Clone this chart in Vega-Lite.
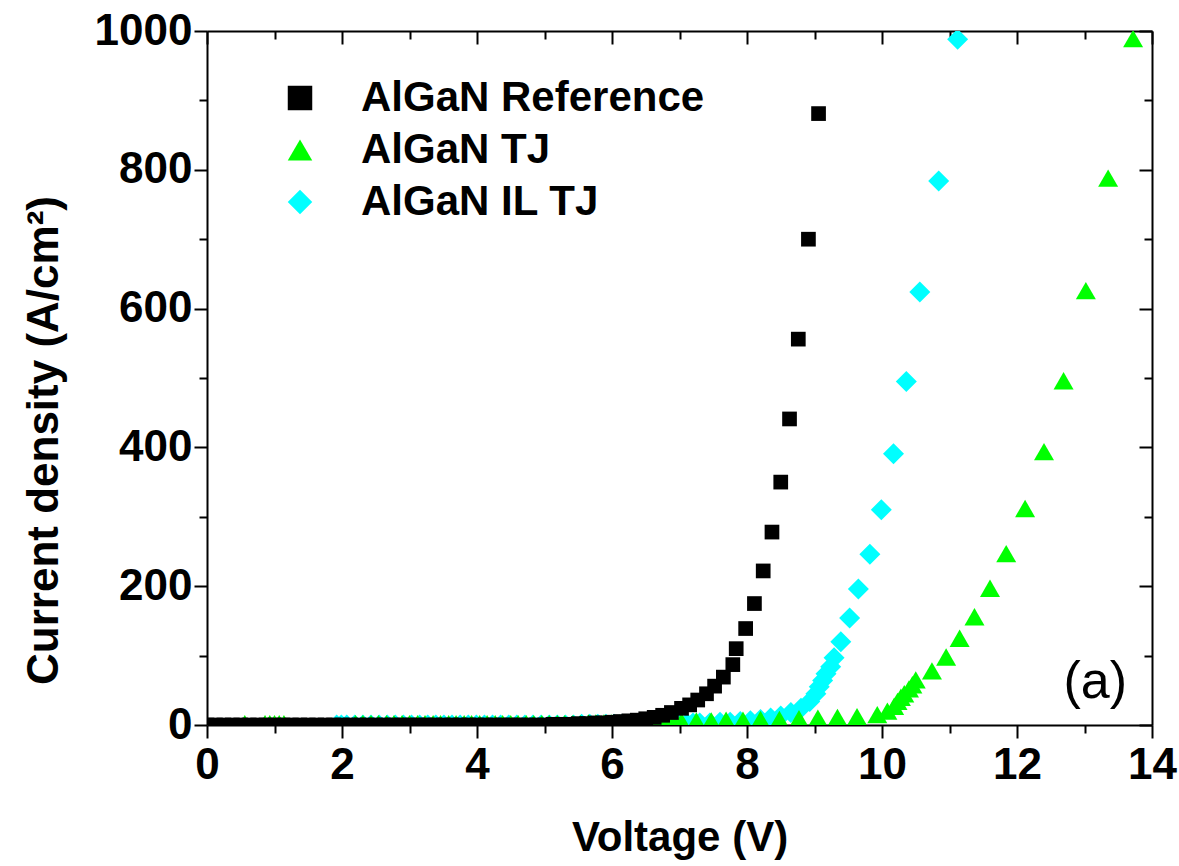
{
  "$schema": "https://vega.github.io/schema/vega-lite/v6.json",
  "autosize": "none",
  "width": 945,
  "height": 694,
  "padding": {"left": 207, "top": 31, "right": 27, "bottom": 141},
  "background": "white",
  "config": {
    "view": {"stroke": null},
    "axis": {
      "grid": false,
      "domainColor": "black",
      "domainWidth": 2,
      "tickColor": "black",
      "tickWidth": 2,
      "labelFont": "Liberation Sans",
      "labelFontWeight": "bold",
      "labelFontSize": 44,
      "labelColor": "black",
      "titleFont": "Liberation Sans",
      "titleFontWeight": "bold",
      "titleFontSize": 42,
      "titleColor": "black"
    }
  },
  "data": {
    "values": [
      {"series": "AlGaN IL TJ", "voltage": 1.92, "current": 0},
      {"series": "AlGaN IL TJ", "voltage": 1.99, "current": 0},
      {"series": "AlGaN IL TJ", "voltage": 2.07, "current": 0},
      {"series": "AlGaN IL TJ", "voltage": 2.19, "current": 0},
      {"series": "AlGaN IL TJ", "voltage": 2.31, "current": 0},
      {"series": "AlGaN IL TJ", "voltage": 2.43, "current": 0},
      {"series": "AlGaN IL TJ", "voltage": 2.55, "current": 0},
      {"series": "AlGaN IL TJ", "voltage": 2.67, "current": 0},
      {"series": "AlGaN IL TJ", "voltage": 2.79, "current": 0},
      {"series": "AlGaN IL TJ", "voltage": 2.91, "current": 0},
      {"series": "AlGaN IL TJ", "voltage": 3.03, "current": 0},
      {"series": "AlGaN IL TJ", "voltage": 3.15, "current": 0},
      {"series": "AlGaN IL TJ", "voltage": 3.27, "current": 0},
      {"series": "AlGaN IL TJ", "voltage": 3.39, "current": 0},
      {"series": "AlGaN IL TJ", "voltage": 3.51, "current": 0},
      {"series": "AlGaN IL TJ", "voltage": 3.63, "current": 0},
      {"series": "AlGaN IL TJ", "voltage": 3.75, "current": 0},
      {"series": "AlGaN IL TJ", "voltage": 3.87, "current": 0},
      {"series": "AlGaN IL TJ", "voltage": 3.99, "current": 0},
      {"series": "AlGaN IL TJ", "voltage": 4.11, "current": 0},
      {"series": "AlGaN IL TJ", "voltage": 4.23, "current": 0},
      {"series": "AlGaN IL TJ", "voltage": 4.35, "current": 0},
      {"series": "AlGaN IL TJ", "voltage": 4.47, "current": 0},
      {"series": "AlGaN IL TJ", "voltage": 4.59, "current": 0},
      {"series": "AlGaN IL TJ", "voltage": 4.71, "current": 0},
      {"series": "AlGaN IL TJ", "voltage": 4.83, "current": 0},
      {"series": "AlGaN IL TJ", "voltage": 4.95, "current": 0},
      {"series": "AlGaN IL TJ", "voltage": 5.07, "current": 0},
      {"series": "AlGaN IL TJ", "voltage": 5.19, "current": 0},
      {"series": "AlGaN IL TJ", "voltage": 5.31, "current": 0},
      {"series": "AlGaN IL TJ", "voltage": 5.43, "current": 0},
      {"series": "AlGaN IL TJ", "voltage": 5.55, "current": 1},
      {"series": "AlGaN IL TJ", "voltage": 5.67, "current": 1},
      {"series": "AlGaN IL TJ", "voltage": 5.79, "current": 1},
      {"series": "AlGaN IL TJ", "voltage": 5.91, "current": 1},
      {"series": "AlGaN IL TJ", "voltage": 6.03, "current": 1},
      {"series": "AlGaN IL TJ", "voltage": 6.15, "current": 1},
      {"series": "AlGaN IL TJ", "voltage": 6.27, "current": 1},
      {"series": "AlGaN IL TJ", "voltage": 6.39, "current": 2},
      {"series": "AlGaN IL TJ", "voltage": 6.51, "current": 2},
      {"series": "AlGaN IL TJ", "voltage": 6.63, "current": 2},
      {"series": "AlGaN IL TJ", "voltage": 6.75, "current": 2},
      {"series": "AlGaN IL TJ", "voltage": 6.87, "current": 2},
      {"series": "AlGaN IL TJ", "voltage": 6.99, "current": 2},
      {"series": "AlGaN IL TJ", "voltage": 7.11, "current": 2},
      {"series": "AlGaN IL TJ", "voltage": 7.2, "current": 3},
      {"series": "AlGaN IL TJ", "voltage": 7.3, "current": 3},
      {"series": "AlGaN IL TJ", "voltage": 7.45, "current": 3},
      {"series": "AlGaN IL TJ", "voltage": 7.6, "current": 4},
      {"series": "AlGaN IL TJ", "voltage": 7.75, "current": 4},
      {"series": "AlGaN IL TJ", "voltage": 7.9, "current": 5},
      {"series": "AlGaN IL TJ", "voltage": 8.05, "current": 6},
      {"series": "AlGaN IL TJ", "voltage": 8.2, "current": 8},
      {"series": "AlGaN IL TJ", "voltage": 8.35, "current": 10},
      {"series": "AlGaN IL TJ", "voltage": 8.5, "current": 13},
      {"series": "AlGaN IL TJ", "voltage": 8.65, "current": 18},
      {"series": "AlGaN IL TJ", "voltage": 8.8, "current": 24},
      {"series": "AlGaN IL TJ", "voltage": 8.93, "current": 34},
      {"series": "AlGaN IL TJ", "voltage": 9.02, "current": 45},
      {"series": "AlGaN IL TJ", "voltage": 9.07, "current": 55},
      {"series": "AlGaN IL TJ", "voltage": 9.12, "current": 64},
      {"series": "AlGaN IL TJ", "voltage": 9.17, "current": 74},
      {"series": "AlGaN IL TJ", "voltage": 9.24, "current": 84},
      {"series": "AlGaN IL TJ", "voltage": 9.29, "current": 97},
      {"series": "AlGaN IL TJ", "voltage": 9.39, "current": 120},
      {"series": "AlGaN IL TJ", "voltage": 9.52, "current": 154},
      {"series": "AlGaN IL TJ", "voltage": 9.65, "current": 196},
      {"series": "AlGaN IL TJ", "voltage": 9.82, "current": 246},
      {"series": "AlGaN IL TJ", "voltage": 9.99, "current": 310},
      {"series": "AlGaN IL TJ", "voltage": 10.17, "current": 391},
      {"series": "AlGaN IL TJ", "voltage": 10.36, "current": 495},
      {"series": "AlGaN IL TJ", "voltage": 10.56, "current": 624},
      {"series": "AlGaN IL TJ", "voltage": 10.84, "current": 784},
      {"series": "AlGaN IL TJ", "voltage": 11.12, "current": 988},

      {"series": "AlGaN TJ", "voltage": 0.56, "current": 2},
      {"series": "AlGaN TJ", "voltage": 0.86, "current": 2},
      {"series": "AlGaN TJ", "voltage": 0.93, "current": 2},
      {"series": "AlGaN TJ", "voltage": 1.0, "current": 2},
      {"series": "AlGaN TJ", "voltage": 1.07, "current": 2},
      {"series": "AlGaN TJ", "voltage": 1.14, "current": 2},
      {"series": "AlGaN TJ", "voltage": 2.2, "current": 2},
      {"series": "AlGaN TJ", "voltage": 2.31, "current": 2},
      {"series": "AlGaN TJ", "voltage": 2.43, "current": 2},
      {"series": "AlGaN TJ", "voltage": 2.54, "current": 2},
      {"series": "AlGaN TJ", "voltage": 2.66, "current": 2},
      {"series": "AlGaN TJ", "voltage": 2.77, "current": 2},
      {"series": "AlGaN TJ", "voltage": 2.89, "current": 2},
      {"series": "AlGaN TJ", "voltage": 3.0, "current": 2},
      {"series": "AlGaN TJ", "voltage": 3.12, "current": 2},
      {"series": "AlGaN TJ", "voltage": 3.23, "current": 2},
      {"series": "AlGaN TJ", "voltage": 3.35, "current": 2},
      {"series": "AlGaN TJ", "voltage": 3.46, "current": 2},
      {"series": "AlGaN TJ", "voltage": 3.58, "current": 2},
      {"series": "AlGaN TJ", "voltage": 3.69, "current": 2},
      {"series": "AlGaN TJ", "voltage": 3.81, "current": 2},
      {"series": "AlGaN TJ", "voltage": 3.92, "current": 2},
      {"series": "AlGaN TJ", "voltage": 4.04, "current": 2},
      {"series": "AlGaN TJ", "voltage": 4.15, "current": 2},
      {"series": "AlGaN TJ", "voltage": 4.27, "current": 2},
      {"series": "AlGaN TJ", "voltage": 4.38, "current": 2},
      {"series": "AlGaN TJ", "voltage": 4.5, "current": 2},
      {"series": "AlGaN TJ", "voltage": 4.61, "current": 2},
      {"series": "AlGaN TJ", "voltage": 4.73, "current": 2},
      {"series": "AlGaN TJ", "voltage": 4.84, "current": 2},
      {"series": "AlGaN TJ", "voltage": 4.96, "current": 2},
      {"series": "AlGaN TJ", "voltage": 5.07, "current": 2},
      {"series": "AlGaN TJ", "voltage": 5.19, "current": 2},
      {"series": "AlGaN TJ", "voltage": 5.3, "current": 2},
      {"series": "AlGaN TJ", "voltage": 5.42, "current": 2},
      {"series": "AlGaN TJ", "voltage": 5.53, "current": 2},
      {"series": "AlGaN TJ", "voltage": 5.65, "current": 3},
      {"series": "AlGaN TJ", "voltage": 5.76, "current": 3},
      {"series": "AlGaN TJ", "voltage": 5.88, "current": 3},
      {"series": "AlGaN TJ", "voltage": 5.99, "current": 3},
      {"series": "AlGaN TJ", "voltage": 6.11, "current": 3},
      {"series": "AlGaN TJ", "voltage": 6.22, "current": 3},
      {"series": "AlGaN TJ", "voltage": 6.34, "current": 4},
      {"series": "AlGaN TJ", "voltage": 6.45, "current": 4},
      {"series": "AlGaN TJ", "voltage": 6.57, "current": 4},
      {"series": "AlGaN TJ", "voltage": 6.68, "current": 4},
      {"series": "AlGaN TJ", "voltage": 6.8, "current": 5},
      {"series": "AlGaN TJ", "voltage": 6.91, "current": 5},
      {"series": "AlGaN TJ", "voltage": 7.03, "current": 5},
      {"series": "AlGaN TJ", "voltage": 7.25, "current": 6},
      {"series": "AlGaN TJ", "voltage": 7.47, "current": 6},
      {"series": "AlGaN TJ", "voltage": 7.69, "current": 7},
      {"series": "AlGaN TJ", "voltage": 7.94, "current": 7},
      {"series": "AlGaN TJ", "voltage": 8.2, "current": 8},
      {"series": "AlGaN TJ", "voltage": 8.48, "current": 8},
      {"series": "AlGaN TJ", "voltage": 8.77, "current": 9},
      {"series": "AlGaN TJ", "voltage": 9.05, "current": 10},
      {"series": "AlGaN TJ", "voltage": 9.34, "current": 11},
      {"series": "AlGaN TJ", "voltage": 9.63, "current": 12},
      {"series": "AlGaN TJ", "voltage": 9.93, "current": 15},
      {"series": "AlGaN TJ", "voltage": 10.08, "current": 20},
      {"series": "AlGaN TJ", "voltage": 10.18, "current": 27},
      {"series": "AlGaN TJ", "voltage": 10.23, "current": 34},
      {"series": "AlGaN TJ", "voltage": 10.28, "current": 40},
      {"series": "AlGaN TJ", "voltage": 10.33, "current": 45},
      {"series": "AlGaN TJ", "voltage": 10.4, "current": 52},
      {"series": "AlGaN TJ", "voltage": 10.45, "current": 58},
      {"series": "AlGaN TJ", "voltage": 10.5, "current": 65},
      {"series": "AlGaN TJ", "voltage": 10.74, "current": 78},
      {"series": "AlGaN TJ", "voltage": 10.95, "current": 98},
      {"series": "AlGaN TJ", "voltage": 11.15, "current": 125},
      {"series": "AlGaN TJ", "voltage": 11.37, "current": 156},
      {"series": "AlGaN TJ", "voltage": 11.6, "current": 197},
      {"series": "AlGaN TJ", "voltage": 11.84, "current": 247},
      {"series": "AlGaN TJ", "voltage": 12.12, "current": 312},
      {"series": "AlGaN TJ", "voltage": 12.4, "current": 394},
      {"series": "AlGaN TJ", "voltage": 12.69, "current": 496},
      {"series": "AlGaN TJ", "voltage": 13.02, "current": 626},
      {"series": "AlGaN TJ", "voltage": 13.35, "current": 788},
      {"series": "AlGaN TJ", "voltage": 13.72, "current": 989},

      {"series": "AlGaN Reference", "voltage": 0.0, "current": 0},
      {"series": "AlGaN Reference", "voltage": 0.125, "current": 0},
      {"series": "AlGaN Reference", "voltage": 0.25, "current": 0},
      {"series": "AlGaN Reference", "voltage": 0.375, "current": 0},
      {"series": "AlGaN Reference", "voltage": 0.5, "current": 0},
      {"series": "AlGaN Reference", "voltage": 0.625, "current": 0},
      {"series": "AlGaN Reference", "voltage": 0.75, "current": 0},
      {"series": "AlGaN Reference", "voltage": 0.875, "current": 0},
      {"series": "AlGaN Reference", "voltage": 1.0, "current": 0},
      {"series": "AlGaN Reference", "voltage": 1.125, "current": 0},
      {"series": "AlGaN Reference", "voltage": 1.25, "current": 0},
      {"series": "AlGaN Reference", "voltage": 1.375, "current": 0},
      {"series": "AlGaN Reference", "voltage": 1.5, "current": 0},
      {"series": "AlGaN Reference", "voltage": 1.625, "current": 0},
      {"series": "AlGaN Reference", "voltage": 1.75, "current": 0},
      {"series": "AlGaN Reference", "voltage": 1.875, "current": 0},
      {"series": "AlGaN Reference", "voltage": 2.0, "current": 0},
      {"series": "AlGaN Reference", "voltage": 2.125, "current": 0},
      {"series": "AlGaN Reference", "voltage": 2.25, "current": 0},
      {"series": "AlGaN Reference", "voltage": 2.375, "current": 0},
      {"series": "AlGaN Reference", "voltage": 2.5, "current": 0},
      {"series": "AlGaN Reference", "voltage": 2.625, "current": 0},
      {"series": "AlGaN Reference", "voltage": 2.75, "current": 0},
      {"series": "AlGaN Reference", "voltage": 2.875, "current": 0},
      {"series": "AlGaN Reference", "voltage": 3.0, "current": 0},
      {"series": "AlGaN Reference", "voltage": 3.125, "current": 0},
      {"series": "AlGaN Reference", "voltage": 3.25, "current": 0},
      {"series": "AlGaN Reference", "voltage": 3.375, "current": 0},
      {"series": "AlGaN Reference", "voltage": 3.5, "current": 0},
      {"series": "AlGaN Reference", "voltage": 3.625, "current": 0},
      {"series": "AlGaN Reference", "voltage": 3.75, "current": 0},
      {"series": "AlGaN Reference", "voltage": 3.875, "current": 0},
      {"series": "AlGaN Reference", "voltage": 4.0, "current": 0},
      {"series": "AlGaN Reference", "voltage": 4.125, "current": 0},
      {"series": "AlGaN Reference", "voltage": 4.25, "current": 0},
      {"series": "AlGaN Reference", "voltage": 4.375, "current": 0},
      {"series": "AlGaN Reference", "voltage": 4.5, "current": 0},
      {"series": "AlGaN Reference", "voltage": 4.625, "current": 0},
      {"series": "AlGaN Reference", "voltage": 4.75, "current": 0},
      {"series": "AlGaN Reference", "voltage": 4.875, "current": 0},
      {"series": "AlGaN Reference", "voltage": 5.0, "current": 0},
      {"series": "AlGaN Reference", "voltage": 5.125, "current": 1},
      {"series": "AlGaN Reference", "voltage": 5.25, "current": 1},
      {"series": "AlGaN Reference", "voltage": 5.375, "current": 1},
      {"series": "AlGaN Reference", "voltage": 5.5, "current": 2},
      {"series": "AlGaN Reference", "voltage": 5.625, "current": 2},
      {"series": "AlGaN Reference", "voltage": 5.75, "current": 3},
      {"series": "AlGaN Reference", "voltage": 5.875, "current": 3},
      {"series": "AlGaN Reference", "voltage": 6.0, "current": 4},
      {"series": "AlGaN Reference", "voltage": 6.125, "current": 5},
      {"series": "AlGaN Reference", "voltage": 6.25, "current": 6},
      {"series": "AlGaN Reference", "voltage": 6.375, "current": 7},
      {"series": "AlGaN Reference", "voltage": 6.5, "current": 9},
      {"series": "AlGaN Reference", "voltage": 6.625, "current": 11},
      {"series": "AlGaN Reference", "voltage": 6.75, "current": 14},
      {"series": "AlGaN Reference", "voltage": 6.88, "current": 18},
      {"series": "AlGaN Reference", "voltage": 7.03, "current": 24},
      {"series": "AlGaN Reference", "voltage": 7.15, "current": 29},
      {"series": "AlGaN Reference", "voltage": 7.27, "current": 36},
      {"series": "AlGaN Reference", "voltage": 7.4, "current": 45},
      {"series": "AlGaN Reference", "voltage": 7.52, "current": 56},
      {"series": "AlGaN Reference", "voltage": 7.65, "current": 69},
      {"series": "AlGaN Reference", "voltage": 7.79, "current": 87},
      {"series": "AlGaN Reference", "voltage": 7.84, "current": 110},
      {"series": "AlGaN Reference", "voltage": 7.98, "current": 139},
      {"series": "AlGaN Reference", "voltage": 8.11, "current": 175},
      {"series": "AlGaN Reference", "voltage": 8.24, "current": 222},
      {"series": "AlGaN Reference", "voltage": 8.37, "current": 278},
      {"series": "AlGaN Reference", "voltage": 8.5, "current": 350},
      {"series": "AlGaN Reference", "voltage": 8.63, "current": 441},
      {"series": "AlGaN Reference", "voltage": 8.76, "current": 556},
      {"series": "AlGaN Reference", "voltage": 8.91, "current": 700},
      {"series": "AlGaN Reference", "voltage": 9.06, "current": 881}
    ]
  },
  "layer": [
    {
      "encoding": {
        "x": {
          "field": "voltage",
          "type": "quantitative",
          "scale": {"domain": [0, 14], "nice": false, "zero": false},
          "axis": {
            "orient": "bottom",
            "title": "Voltage (V)",
            "format": "d",
            "values": [0, 1, 2, 3, 4, 5, 6, 7, 8, 9, 10, 11, 12, 13, 14],
            "labelExpr": "datum.value % 2 === 0 ? datum.label : ''",
            "tickSize": {"condition": {"test": "datum.value % 2 === 0", "value": 13}, "value": 8},
            "labelPadding": 5,
            "titlePadding": 30,
            "labelFlush": false
          }
        },
        "y": {
          "field": "current",
          "type": "quantitative",
          "scale": {"domain": [0, 1000], "nice": false, "zero": false},
          "axis": {
            "orient": "left",
            "title": "Current density (A/cm²)",
            "format": "d",
            "values": [0, 100, 200, 300, 400, 500, 600, 700, 800, 900, 1000],
            "labelExpr": "datum.value % 200 === 0 ? datum.label : ''",
            "tickSize": {"condition": {"test": "datum.value % 200 === 0", "value": 13}, "value": 8},
            "labelPadding": 2,
            "titlePadding": 28,
            "titleFontSize": 44,
            "titleAnchor": "middle",
            "titleY": 409,
            "labelFlush": false
          }
        },
        "color": {
          "field": "series",
          "type": "nominal",
          "scale": {"domain": ["AlGaN Reference", "AlGaN TJ", "AlGaN IL TJ"], "range": ["#000000", "#00FF00", "#00FFFF"]},
          "legend": {
            "orient": "none",
            "legendX": 72,
            "legendY": 46,
            "title": null,
            "padding": 0,
            "labelFont": "Liberation Sans",
            "labelFontWeight": "bold",
            "labelFontSize": 42,
            "labelColor": "black",
            "labelLimit": 0,
            "labelOffset": 40,
            "rowPadding": 10,
            "symbolSize": 600,
            "symbolStrokeWidth": 0
          }
        },
        "shape": {
          "field": "series",
          "type": "nominal",
          "scale": {"domain": ["AlGaN Reference", "AlGaN TJ", "AlGaN IL TJ"], "range": ["square", "triangle-up", "diamond"]}
        }
      },
      "layer": [
        {
          "transform": [{"filter": "datum.series === 'AlGaN IL TJ'"}],
          "mark": {"type": "point", "filled": true, "opacity": 1, "strokeWidth": 0, "clip": true, "size": 441}
        },
        {
          "transform": [{"filter": "datum.series === 'AlGaN TJ'"}],
          "mark": {"type": "point", "filled": true, "opacity": 1, "strokeWidth": 0, "clip": true, "size": 400}
        },
        {
          "transform": [{"filter": "datum.series === 'AlGaN Reference'"}],
          "mark": {"type": "point", "filled": true, "opacity": 1, "strokeWidth": 0, "clip": true, "size": 216}
        }
      ]
    },
    {
      "data": {"values": [{}]},
      "mark": {"type": "text", "font": "Liberation Sans", "fontSize": 52, "color": "black", "align": "center", "baseline": "middle", "text": "(a)"},
      "encoding": {
        "x": {
          "datum": 13.16,
          "type": "quantitative",
          "scale": {"domain": [0, 14], "nice": false, "zero": false},
          "axis": {
            "orient": "top",
            "title": null,
            "labels": false,
            "values": [0, 1, 2, 3, 4, 5, 6, 7, 8, 9, 10, 11, 12, 13, 14],
            "tickSize": {"condition": {"test": "datum.value % 2 === 0", "value": -13}, "value": -8}
          }
        },
        "y": {
          "datum": 62,
          "type": "quantitative",
          "scale": {"domain": [0, 1000], "nice": false, "zero": false},
          "axis": {
            "orient": "right",
            "title": null,
            "labels": false,
            "values": [0, 100, 200, 300, 400, 500, 600, 700, 800, 900, 1000],
            "tickSize": {"condition": {"test": "datum.value % 200 === 0", "value": -13}, "value": -8}
          }
        }
      }
    }
  ],
  "resolve": {"axis": {"x": "independent", "y": "independent"}}
}
